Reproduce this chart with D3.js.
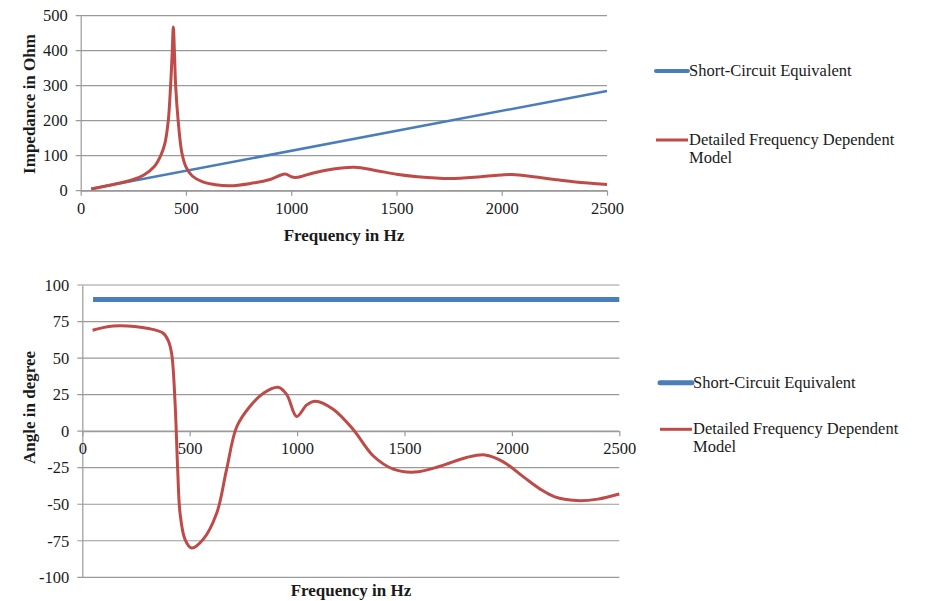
<!DOCTYPE html>
<html>
<head>
<meta charset="utf-8">
<script src="https://cdn.jsdelivr.net/npm/d3@7"></script>
<style>
  body { margin: 0; background: #fff; }
  svg text { font-family: "Liberation Serif", "Times New Roman", serif; fill: #1a1a1a; }
</style>
</head>
<body>
<div id="chart"></div>
<script>
// ---- data ----
const xTicks = [0, 500, 1000, 1500, 2000, 2500];
const impTicks = [0, 100, 200, 300, 400, 500];
const angTicks = [-100, -75, -50, -25, 0, 25, 50, 75, 100];

const seriesNames = ["Short-Circuit Equivalent", "Detailed Frequency Dependent Model"];

// impedance (Ohm) vs frequency (Hz)
const impShort = [[50, 5.7], [2500, 285]];
const impDetailed = [
  [50, 5], [150, 17], [250, 32], [300, 45], [350, 69], [380, 100], [400, 135],
  [416, 200], [427, 300], [435, 400], [440, 468], [445, 400], [451, 300],
  [463, 200], [480, 110], [500, 68], [530, 42], [580, 25], [640, 17], [710, 14],
  [800, 20], [900, 32], [970, 48], [1000, 40], [1020, 38], [1050, 41], [1100, 50],
  [1200, 62], [1300, 67], [1400, 58], [1500, 47], [1600, 40], [1755, 35],
  [1900, 40], [2000, 45], [2050, 46], [2150, 40], [2250, 32], [2350, 25], [2500, 18]
];

// angle (degree) vs frequency (Hz)
const angShort = [[50, 90], [2500, 90]];
const angDetailed = [
  [48, 69], [144, 72], [315, 70], [377, 67], [400, 62], [416, 53], [432, 19],
  [444, -26], [455, -56], [478, -74], [509, -80], [563, -74], [626, -56],
  [672, -26], [719, 3], [781, 17], [843, 26], [912, 30], [952, 25], [998, 10],
  [1045, 18], [1085, 20.5], [1168, 15], [1262, 1], [1355, -17], [1448, -26],
  [1549, -28], [1665, -24], [1789, -18], [1875, -16.3], [1960, -21], [2060, -32],
  [2130, -39.5], [2200, -45], [2300, -47.5], [2400, -46.5], [2500, -43]
];

const blue = "#4a7ebb", red = "#be4b48", grid = "#9a9a9a";
const fs = "16.5px", titleFs = "17px";

const svg = d3.select("#chart").append("svg")
  .attr("width", 933).attr("height", 601);

function legend(g, x, y, gap, blueW) {
  // blue entry
  g.append("line").attr("x1", x).attr("x2", x + 32).attr("y1", y).attr("y2", y)
    .attr("stroke", blue).attr("stroke-width", blueW).attr("stroke-linecap", "round");
  g.append("text").attr("x", x + 33).attr("y", y + 5).style("font-size", fs)
    .text(seriesNames[0]);
  // red entry, wrapped over two lines
  const words = seriesNames[1].split(" ");
  g.append("line").attr("x1", x).attr("x2", x + 32).attr("y1", y + gap).attr("y2", y + gap)
    .attr("stroke", red).attr("stroke-width", 3);
  g.append("text").attr("x", x + 33).attr("y", y + gap + 5).style("font-size", fs)
    .text(words.slice(0, 3).join(" "));
  g.append("text").attr("x", x + 33).attr("y", y + gap + 23).style("font-size", fs)
    .text(words.slice(3).join(" "));
}

const fmt = d => String(d);

/** top panel: impedance */
(function() {
  const left = 80.7, right = 607, top = 15.7, bottom = 190.7;
  const x = d3.scaleLinear().domain([0, 2500]).range([left, right]);
  const y = d3.scaleLinear().domain([0, 500]).range([bottom, top]);

  const g = svg.append("g");

  // gridlines
  g.selectAll("line.grid").data(impTicks).enter().append("line")
    .attr("x1", left - 5).attr("x2", right)
    .attr("y1", d => y(d)).attr("y2", d => y(d))
    .attr("stroke", grid).attr("stroke-width", 1.2);

  // y axis
  const yAxis = d3.axisLeft(y).tickValues(impTicks).tickFormat(fmt).tickSize(0).tickPadding(13);
  g.append("g").attr("transform", "translate(" + left + ",0)").call(yAxis)
    .call(a => a.select(".domain").attr("stroke", grid).attr("stroke-width", 1.2))
    .selectAll("text").style("font-size", fs);

  // x axis
  const xAxis = d3.axisBottom(x).tickValues(xTicks).tickFormat(fmt)
    .tickSizeInner(5).tickSizeOuter(0).tickPadding(7);
  g.append("g").attr("transform", "translate(0," + bottom + ")").call(xAxis)
    .call(a => a.select(".domain").attr("stroke", grid).attr("stroke-width", 1.2))
    .call(a => a.selectAll(".tick line").attr("stroke", grid).attr("stroke-width", 1.2))
    .selectAll("text").style("font-size", fs);

  const line = d3.line().x(d => x(d[0])).y(d => y(d[1])).curve(d3.curveCatmullRom.alpha(0.5));
  g.append("path").datum(impShort).attr("d", line)
    .attr("fill", "none").attr("stroke", blue).attr("stroke-width", 2.5);
  g.append("path").datum(impDetailed).attr("d", line)
    .attr("fill", "none").attr("stroke", red).attr("stroke-width", 3);

  g.append("text").attr("x", 344).attr("y", 241)
    .attr("text-anchor", "middle").style("font-size", titleFs).style("font-weight", "bold")
    .text("Frequency in Hz");
  g.append("text").attr("transform", "translate(35," + 104 + ") rotate(-90)")
    .attr("text-anchor", "middle").style("font-size", titleFs).style("font-weight", "bold")
    .text("Impedance in Ohm");

  legend(g, 656, 71, 69, 4);
})();

/** bottom panel: angle */
(function() {
  const left = 82.3, right = 619.3, top = 285, bottom = 577.3;
  const x = d3.scaleLinear().domain([0, 2500]).range([left, right]);
  const y = d3.scaleLinear().domain([-100, 100]).range([bottom, top]);

  const g = svg.append("g");

  g.selectAll("line.grid").data(angTicks).enter().append("line")
    .attr("x1", left - 5).attr("x2", right)
    .attr("y1", d => y(d)).attr("y2", d => y(d))
    .attr("stroke", grid).attr("stroke-width", 1.2);

  const yAxis = d3.axisLeft(y).tickValues(angTicks).tickFormat(fmt).tickSize(0).tickPadding(13);
  g.append("g").attr("transform", "translate(" + left + ",0)").call(yAxis)
    .call(a => a.select(".domain").attr("stroke", grid).attr("stroke-width", 1.2))
    .selectAll("text").style("font-size", fs);

  const xAxis = d3.axisBottom(x).tickValues(xTicks).tickFormat(fmt)
    .tickSizeInner(5).tickSizeOuter(0).tickPadding(6);
  g.append("g").attr("transform", "translate(0," + y(0) + ")").call(xAxis)
    .call(a => a.select(".domain").attr("stroke", grid).attr("stroke-width", 1.2))
    .call(a => a.selectAll(".tick line").attr("stroke", grid).attr("stroke-width", 1.2))
    .selectAll("text").style("font-size", fs);

  const line = d3.line().x(d => x(d[0])).y(d => y(d[1])).curve(d3.curveCatmullRom.alpha(0.5));
  g.append("path").datum(angShort).attr("d", line)
    .attr("fill", "none").attr("stroke", blue).attr("stroke-width", 5);
  g.append("path").datum(angDetailed).attr("d", line)
    .attr("fill", "none").attr("stroke", red).attr("stroke-width", 3);

  g.append("text").attr("x", 351).attr("y", 596)
    .attr("text-anchor", "middle").style("font-size", titleFs).style("font-weight", "bold")
    .text("Frequency in Hz");
  g.append("text").attr("transform", "translate(35," + 407.5 + ") rotate(-90)")
    .attr("text-anchor", "middle").style("font-size", titleFs).style("font-weight", "bold")
    .text("Angle in degree");

  legend(g, 660, 382.7, 46.6, 5);
})();
</script>
</body>
</html>
